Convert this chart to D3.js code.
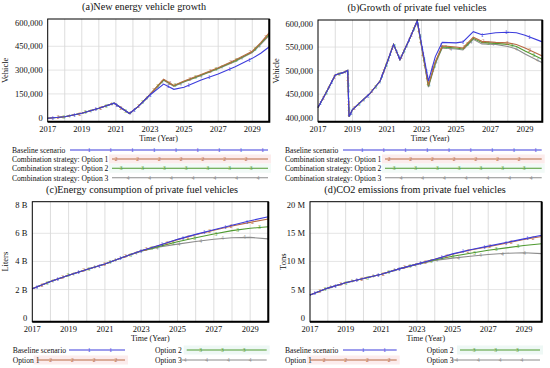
<!DOCTYPE html>
<html>
<head>
<meta charset="utf-8">
<script src="https://cdn.jsdelivr.net/npm/d3@7"></script>
<style>
  body { margin: 0; background: #fff; }
  svg text { font-family: 'Liberation Serif', 'Times New Roman', serif; fill: #111; }
</style>
</head>
<body>
<svg id="chart" width="550" height="368"></svg>
<script>
// ---- data ----
const seriesKeys = ['base', 'opt1', 'opt2', 'opt3'];
const seriesColors = { base: '#3c3cdc', opt1: '#b86a44', opt2: '#4f9a30', opt3: '#8c8c8c' };
const seriesMarks = { base: '1', opt1: '2', opt2: '3', opt3: '4' };

// (a) new energy vehicles
const aYears = [2017, 2018, 2019, 2020, 2020.9, 2021.8, 2022.3, 2022.8, 2023.0, 2023.8, 2024.4, 2025, 2026, 2027, 2028, 2029, 2029.5, 2030];
const aBase = [20000, 29000, 49000, 78000, 108000, 48000, 88000, 137000, 156000, 220000, 189000, 201000, 244000, 279000, 321000, 370000, 400000, 438000];
const aOpt1 = [20000, 29000, 49000, 78000, 108000, 48000, 88000, 137000, 160000, 248000, 212000, 238000, 276000, 315000, 360000, 412000, 462000, 520000];
const aOpt2 = [20000, 29000, 49000, 78000, 108000, 48000, 88000, 137000, 159000, 245000, 210000, 235000, 273000, 312000, 356000, 408000, 457000, 512000];
const aOpt3 = [20000, 29000, 49000, 78000, 108000, 48000, 88000, 137000, 158000, 242000, 207000, 232000, 270000, 309000, 352000, 404000, 452000, 505000];

// (b) private fuel vehicles
const bYears = [2017, 2017.5, 2018, 2018.5, 2018.72, 2018.8, 2019, 2020, 2020.6, 2021.0, 2021.38, 2021.75, 2022.3, 2022.75, 2023.4, 2023.8, 2024.2, 2025, 2025.4, 2026, 2026.5, 2027.3, 2028, 2028.5, 2029, 2030];
const bBase = [428000, 459000, 492000, 497000, 501000, 410000, 424000, 455000, 480000, 516000, 552000, 522000, 562000, 598000, 480000, 528000, 556000, 555000, 557000, 577000, 571000, 575000, 576000, 575000, 570000, 557000];
const bOpt1 = [428000, 459000, 492000, 497000, 501000, 410000, 424000, 455000, 480000, 516000, 552000, 522000, 562000, 598000, 472000, 518000, 549000, 547000, 545000, 566000, 558000, 556000, 555000, 552000, 545000, 529000];
const bOpt2 = [428000, 459000, 492000, 497000, 501000, 410000, 424000, 455000, 480000, 516000, 552000, 522000, 562000, 598000, 470000, 516000, 547000, 545000, 543000, 564000, 556000, 554000, 552000, 548000, 539000, 523000];
const bOpt3 = [428000, 459000, 492000, 497000, 501000, 410000, 424000, 455000, 480000, 516000, 552000, 522000, 562000, 598000, 468000, 514000, 545000, 543000, 541000, 562000, 553000, 552000, 548000, 543000, 533000, 516000];

// (c) energy consumption, billions of liters
const cYears = [2017, 2018, 2019, 2020, 2021, 2022, 2023, 2024, 2025, 2026, 2027, 2028, 2029, 2030];
const cBase = [2.2, 2.68, 3.1, 3.48, 3.85, 4.3, 4.73, 5.1, 5.49, 5.82, 6.13, 6.43, 6.73, 7.0];
const cOpt1 = [2.2, 2.68, 3.1, 3.48, 3.85, 4.3, 4.73, 5.1, 5.47, 5.8, 6.1, 6.38, 6.62, 6.85];
const cOpt2 = [2.2, 2.68, 3.1, 3.48, 3.85, 4.3, 4.72, 5.02, 5.33, 5.6, 5.85, 6.07, 6.23, 6.33];
const cOpt3 = [2.2, 2.68, 3.1, 3.48, 3.85, 4.3, 4.7, 4.98, 5.17, 5.35, 5.5, 5.6, 5.62, 5.52];

// (d) CO2 emissions, millions of tons
const dYears = cYears;
const dBase = [4.45, 5.6, 6.5, 7.2, 7.9, 8.8, 9.6, 10.4, 11.3, 12.0, 12.6, 13.2, 13.8, 14.4];
const dOpt1 = [4.45, 5.6, 6.5, 7.2, 7.9, 8.8, 9.6, 10.4, 11.25, 11.95, 12.5, 13.1, 13.7, 14.2];
const dOpt2 = [4.45, 5.6, 6.5, 7.2, 7.9, 8.8, 9.6, 10.3, 10.9, 11.4, 11.9, 12.3, 12.7, 13.0];
const dOpt3 = [4.45, 5.6, 6.5, 7.2, 7.9, 8.8, 9.55, 10.2, 10.6, 10.9, 11.2, 11.4, 11.5, 11.35];

const xTickYears = [2017, 2019, 2021, 2023, 2025, 2027, 2029];
const aTicks = [0, 150000, 300000, 450000, 600000];
const bTicks = [400000, 450000, 500000, 550000, 600000];
const cTicks = [0, 2, 4, 6, 8];
const dTicks = [0, 5, 10, 15, 20];
const cTickLabels = ['0', '2 B', '4 B', '6 B', '8 B'];
const dTickLabels = ['0', '5 M', '10 M', '15 M', '20 M'];

const longLegend = ['Baseline scenario', 'Combination strategy: Option 1', 'Combination strategy: Option 2', 'Combination strategy: Option 3'];
const shortLegend = ['Baseline scenario', 'Option 1', 'Option 2', 'Option 3'];

const svg = d3.select('#chart');
const fmtComma = d3.format(',');

function drawPanel(p) {
    const x = d3.scaleLinear().domain([2017, 2030]).range([p.left, p.right]);
    const y = d3.scaleLinear().domain(p.yDomain).range([p.bottom, p.top]);
    // vensim squeezes its labels inside the frame
    const yLab = d3.scaleLinear().domain(p.yDomain).range([p.bottom - 4, p.top + 3.5]);
    const g = svg.append('g');

    // grid
    g.selectAll('.vg').data(d3.range(2018, 2030)).enter().append('line')
        .attr('x1', d => x(d)).attr('x2', d => x(d))
        .attr('y1', p.top).attr('y2', p.bottom)
        .attr('stroke', '#d4d4d4').attr('stroke-width', 0.8);
    g.selectAll('.hg').data(p.yTicks.slice(1, -1)).enter().append('line')
        .attr('x1', p.left).attr('x2', p.right)
        .attr('y1', d => yLab(d)).attr('y2', d => yLab(d))
        .attr('stroke', '#dadada').attr('stroke-width', 0.7);

    // lines, options under the baseline
    const line = d3.line().x(d => x(d[0])).y(d => y(d[1]));
    ['opt3', 'opt2', 'opt1', 'base'].forEach(k => {
        const idx = seriesKeys.indexOf(k);
        const pts = p.years.map((yr, j) => [yr, p.series[k][j]]);
        const path = g.append('path').datum(pts)
            .attr('d', line).attr('fill', 'none')
            .attr('stroke', seriesColors[k]).attr('stroke-width', 1.1);
        // number markers spaced along the drawn path
        const node = path.node();
        const len = node.getTotalLength();
        for (let s = 5 + idx * p.markStep / 4; s < len - 2; s += p.markStep) {
            const pt = node.getPointAtLength(s);
            g.append('text').attr('x', pt.x).attr('y', pt.y + 2)
                .attr('text-anchor', 'middle').style('font-size', '5.5px')
                .style('fill', seriesColors[k]).text(seriesMarks[k]);
        }
    });

    // frame
    g.append('rect').attr('x', p.left).attr('y', p.top)
        .attr('width', p.right - p.left).attr('height', p.bottom - p.top)
        .attr('fill', 'none').attr('stroke', '#000').attr('stroke-width', 1);
    g.append('path')
        .attr('d', `M${p.right},${p.top}V${p.bottom}H${p.left}`)
        .attr('fill', 'none').attr('stroke', '#000').attr('stroke-width', 2);

    // tick labels
    g.selectAll('.yt').data(p.yTicks).enter().append('text')
        .attr('x', p.left - 5).attr('y', d => yLab(d) + 3)
        .attr('text-anchor', 'end').style('font-size', '8.5px')
        .text((d, i) => p.yLabels ? p.yLabels[i] : fmtComma(d));
    g.selectAll('.xt').data(xTickYears).enter().append('text')
        .attr('x', d => x(d)).attr('y', p.bottom + 10)
        .attr('text-anchor', 'middle').style('font-size', '8.5px')
        .text(d => d);

    // titles
    g.append('text').attr('x', p.titleX).attr('y', p.top - 9)
        .attr('text-anchor', 'middle').style('font-size', '10.2px').text(p.title);
    g.append('text').attr('x', (p.left + p.right) / 2).attr('y', p.bottom + 19)
        .attr('text-anchor', 'middle').style('font-size', '8px').text('Time (Year)');
    g.append('text')
        .attr('transform', `translate(${p.yTitleX},${(p.top + p.bottom) / 2}) rotate(-90)`)
        .attr('text-anchor', 'middle').style('font-size', '8.5px').text(p.yTitle);
}

function drawLegend(items) {
    items.forEach(it => {
        const k = seriesKeys[it.key];
        if (it.bg) {
            svg.append('rect').attr('x', it.x1 - 3).attr('y', it.y - 4.5)
                .attr('width', it.x2 - it.x1 + 6).attr('height', 9)
                .attr('fill', it.bg);
        }
        svg.append('text').attr('x', it.tx).attr('y', it.y + 2.8)
            .style('font-size', '7.6px').text(it.label);
        svg.append('line').attr('x1', it.x1).attr('x2', it.x2)
            .attr('y1', it.y).attr('y2', it.y)
            .attr('stroke', seriesColors[k]).attr('stroke-width', 1.1);
        for (let m = it.x1 + it.off; m < it.x2 - 3; m += 21.7) {
            svg.append('text').attr('x', m).attr('y', it.y + 2)
                .attr('text-anchor', 'middle').style('font-size', '5.5px')
                .style('fill', seriesColors[k]).text(seriesMarks[k]);
        }
    });
}

drawPanel({
    left: 47.7, right: 269.3, top: 19, bottom: 121.7,
    yDomain: [0, 600000], yTicks: aTicks, years: aYears,
    series: { base: aBase, opt1: aOpt1, opt2: aOpt2, opt3: aOpt3 },
    title: '(a)New energy vehicle growth', titleX: 144, yTitle: 'Vehicle', yTitleX: 8,
    markStep: 22
});
drawPanel({
    left: 318, right: 542.3, top: 20, bottom: 121.7,
    yDomain: [400000, 600000], yTicks: bTicks, years: bYears,
    series: { base: bBase, opt1: bOpt1, opt2: bOpt2, opt3: bOpt3 },
    title: '(b)Growth of private fuel vehicles', titleX: 417, yTitle: 'Vehicle', yTitleX: 279,
    markStep: 24
});
drawPanel({
    left: 32.3, right: 268.3, top: 201.7, bottom: 321.7,
    yDomain: [0, 8], yTicks: cTicks, yLabels: cTickLabels, years: cYears,
    series: { base: cBase, opt1: cOpt1, opt2: cOpt2, opt3: cOpt3 },
    title: '(c)Energy consumption of private fuel vehicles', titleX: 142, yTitle: 'Liters', yTitleX: 8,
    markStep: 22
});
drawPanel({
    left: 310, right: 541.7, top: 201.7, bottom: 321.7,
    yDomain: [0, 20], yTicks: dTicks, yLabels: dTickLabels, years: dYears,
    series: { base: dBase, opt1: dOpt1, opt2: dOpt2, opt3: dOpt3 },
    title: '(d)CO2 emissions from private fuel vehicles', titleX: 415, yTitle: 'Tons', yTitleX: 286,
    markStep: 22
});

const topRows = [150, 159, 168.3, 177.7];
drawLegend([
    { key: 0, label: longLegend[0], tx: 12, y: topRows[0], x1: 70, x2: 268, off: 19 },
    { key: 1, label: longLegend[1], tx: 12, y: topRows[1], x1: 112, x2: 268, off: 4, bg: '#fcecec' },
    { key: 2, label: longLegend[2], tx: 12, y: topRows[2], x1: 112, x2: 268, off: 9, bg: '#f2faf7' },
    { key: 3, label: longLegend[3], tx: 12, y: topRows[3], x1: 112, x2: 268, off: 16 },
    { key: 0, label: longLegend[0], tx: 285, y: topRows[0], x1: 343, x2: 541.7, off: 19 },
    { key: 1, label: longLegend[1], tx: 285, y: topRows[1], x1: 385, x2: 541.7, off: 4, bg: '#fcecec' },
    { key: 2, label: longLegend[2], tx: 285, y: topRows[2], x1: 385, x2: 541.7, off: 9, bg: '#f2faf7' },
    { key: 3, label: longLegend[3], tx: 285, y: topRows[3], x1: 385, x2: 541.7, off: 16 },
    { key: 0, label: shortLegend[0], tx: 12.7, y: 350, x1: 69, x2: 125, off: 20 },
    { key: 1, label: shortLegend[1], tx: 12.7, y: 360, x1: 36.7, x2: 125, off: 14, bg: '#fcecec' },
    { key: 2, label: shortLegend[2], tx: 155, y: 350, x1: 186.7, x2: 266.7, off: 14, bg: '#eef8f5' },
    { key: 3, label: shortLegend[3], tx: 155, y: 360, x1: 180, x2: 266.7, off: 5 },
    { key: 0, label: shortLegend[0], tx: 285, y: 350, x1: 343, x2: 396.7, off: 20 },
    { key: 1, label: shortLegend[1], tx: 285, y: 360, x1: 310, x2: 396.7, off: 14, bg: '#fcecec' },
    { key: 2, label: shortLegend[2], tx: 426.7, y: 350, x1: 460, x2: 540, off: 14, bg: '#eef8f5' },
    { key: 3, label: shortLegend[3], tx: 426.7, y: 360, x1: 451.7, x2: 540, off: 5 }
]);
</script>
</body>
</html>
